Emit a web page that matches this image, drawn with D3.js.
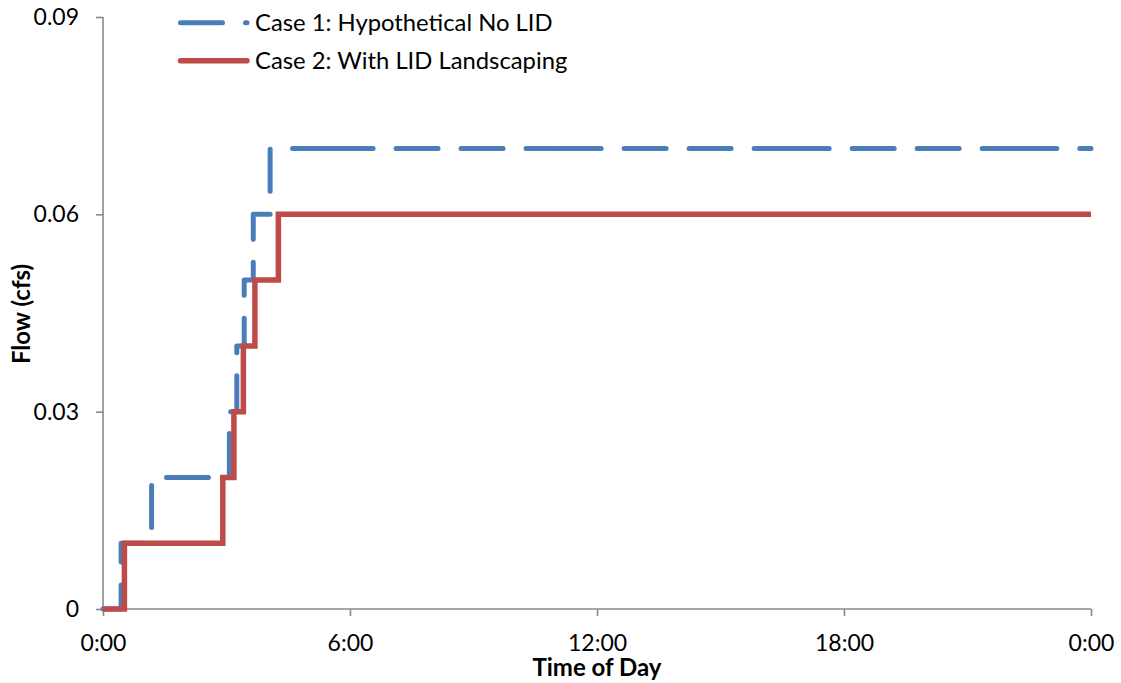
<!DOCTYPE html>
<html>
<head>
<meta charset="utf-8">
<script src="https://cdn.jsdelivr.net/npm/d3@7"></script>
<style>
  html, body { margin: 0; padding: 0; background: #ffffff; }
  svg { display: block; }
  text { font-family: Lato, "Open Sans", sans-serif; fill: #000000; }
</style>
</head>
<body>
<svg id="chart" width="1121" height="683"></svg>
<script>
// Axis ticks
const xTickHours = [0, 6, 12, 18, 24];
const xTickLabels = ["0:00", "6:00", "12:00", "18:00", "0:00"];
const yTickValues = [0, 0.03, 0.06, 0.09];
const yTickLabels = ["0", "0.03", "0.06", "0.09"];

// Series: hour at which the flow steps up, and the flow (cfs) from that hour on
const seriesNames = ["Case 1: Hypothetical No LID", "Case 2: With LID Landscaping"];
const case1Hours = [0, 0.44, 1.18, 3.07, 3.25, 3.43, 3.65, 4.06];
const case1Flow  = [0, 0.01, 0.02, 0.03, 0.04, 0.05, 0.06, 0.07];
const case2Hours = [0, 0.52, 2.91, 3.18, 3.41, 3.69, 4.26];
const case2Flow  = [0, 0.01, 0.02, 0.03, 0.04, 0.05, 0.06];
const endHour = 24;
// hours at which the logged record is split into separate pieces
const recordBreaks = [5.54, 11.08, 16.62, 22.15];

const svg = d3.select("#chart");
const x = d3.scaleLinear().domain([0, 24]).range([103, 1091]);
const y = d3.scaleLinear().domain([0, 0.09]).range([609, 17]);

const axisColor = "#898989";
const blue = "#4A7EBB";
const red = "#BE4B48";
const tickFont = "23px";
const legendFont = "23.8px";
const titleFont = "24px";

// Build step pieces for a series, split at record breaks
function pieces(hours, flow) {
  const pts = hours.map((h, i) => [h, flow[i]]);
  const flowAt = h => {
    let v = flow[0];
    hours.forEach((hh, i) => { if (hh <= h) v = flow[i]; });
    return v;
  };
  const cuts = recordBreaks.concat([endHour]);
  const out = [];
  let start = 0;
  cuts.forEach(c => {
    const seg = [[start, flowAt(start)]];
    pts.forEach(p => { if (p[0] > start && p[0] < c) seg.push(p); });
    seg.push([c, flowAt(c)]);
    out.push(seg);
    start = c;
  });
  return out;
}

const line = d3.line()
  .x(d => x(d[0]))
  .y(d => y(d[1]))
  .curve(d3.curveStepAfter);

// Axes
const yAxis = d3.axisLeft(y)
  .tickValues(yTickValues)
  .tickFormat((d, i) => yTickLabels[i])
  .tickSize(7)
  .tickPadding(17);
const xAxis = d3.axisBottom(x)
  .tickValues(xTickHours)
  .tickFormat((d, i) => xTickLabels[i])
  .tickSize(7)
  .tickPadding(19);

const gy = svg.append("g").attr("transform", "translate(103,0)").call(yAxis);
const gx = svg.append("g").attr("transform", "translate(0,609)").call(xAxis);
[gx, gy].forEach(g => {
  g.select(".domain").attr("stroke", axisColor).attr("stroke-width", 1.6)
    .attr("d", g === gx ? "M103,0H1091" : "M0,17V609");
  g.selectAll(".tick line").attr("stroke", axisColor).attr("stroke-width", 1.6);
  g.selectAll(".tick text")
    .style("font-family", "Lato, 'Open Sans', sans-serif")
    .style("font-size", tickFont)
    .attr("fill", "#000");
});

// Case 1: dashed steps
const g1 = svg.append("g");
pieces(case1Hours, case1Flow).forEach(seg => {
  g1.append("path")
    .attr("d", line(seg))
    .attr("fill", "none")
    .attr("stroke", blue)
    .attr("stroke-width", 5)
    .attr("stroke-dasharray", "42 23")
    .attr("stroke-linecap", "round")
    .attr("stroke-linejoin", "round");
});

// Case 2: solid steps
const g2 = svg.append("g");
const allCase2 = case2Hours.map((h, i) => [h, case2Flow[i]]).concat([[endHour, case2Flow[case2Flow.length - 1]]]);
g2.append("path")
  .attr("d", line(allCase2))
  .attr("fill", "none")
  .attr("stroke", red)
  .attr("stroke-width", 5.5)
  .attr("stroke-linejoin", "miter")
  .attr("stroke-linecap", "butt");

// Axis titles
svg.append("text")
  .attr("x", 597).attr("y", 668).attr("dy", "0.35em")
  .attr("text-anchor", "middle")
  .style("font-size", titleFont).style("font-weight", "bold")
  .text("Time of Day");
svg.append("text")
  .attr("transform", "translate(22,314) rotate(-90)")
  .attr("dy", "0.35em")
  .attr("text-anchor", "middle")
  .style("font-size", titleFont).style("font-weight", "bold")
  .text("Flow (cfs)");

// Legend
const legend = svg.append("g");
const legendRows = [
  { name: seriesNames[0], color: blue, dash: "42 23", width: 5, cap: "round", yy: 22.7 },
  { name: seriesNames[1], color: red, dash: null, width: 5.5, cap: "round", yy: 60.7 }
];
legendRows.forEach(r => {
  legend.append("line")
    .attr("x1", 180.5).attr("x2", 247)
    .attr("y1", r.yy).attr("y2", r.yy)
    .attr("stroke", r.color)
    .attr("stroke-width", r.width)
    .attr("stroke-linecap", r.cap)
    .attr("stroke-dasharray", r.dash);
  legend.append("text")
    .attr("x", 255).attr("y", r.yy).attr("dy", "0.35em")
    .style("font-size", legendFont)
    .text(r.name);
});
</script>
</body>
</html>
